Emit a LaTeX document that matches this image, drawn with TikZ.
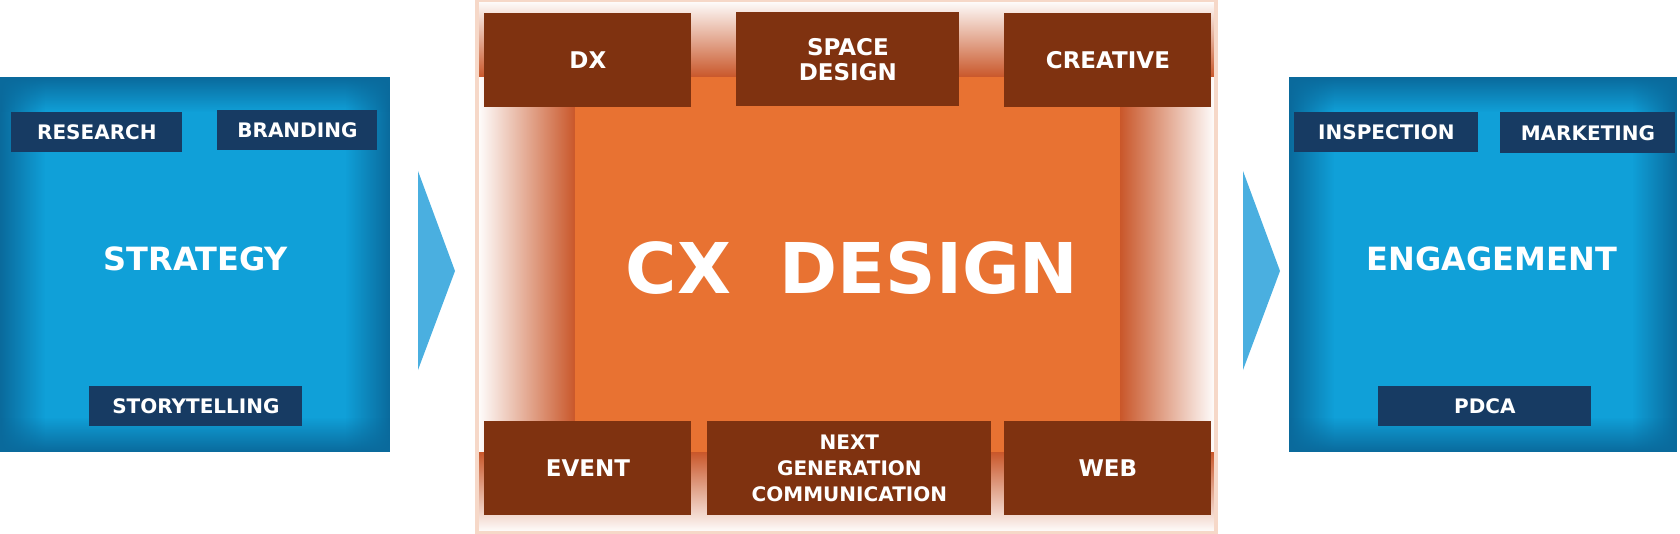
\documentclass[tikz,border=0pt]{standalone}
\usepackage{fontspec}
\setmainfont{DejaVu Sans}
\usetikzlibrary{fadings}
\definecolor{bluec}{HTML}{10A0D8}
\definecolor{blued}{HTML}{0A6A9C}
\definecolor{navy}{HTML}{173B63}
\definecolor{brown}{HTML}{7F3210}
\definecolor{orange}{HTML}{E87232}
\definecolor{oranged}{HTML}{C9572A}
\definecolor{peach}{HTML}{F6D8C8}
\definecolor{arrowc}{HTML}{4AAFE0}
\tikzset{
  tag/.style={fill=navy,text=white,font=\bfseries\fontsize{10}{12}\selectfont,inner sep=0pt,anchor=north west},
  brownbox/.style={fill=brown,text=white,font=\bfseries\fontsize{11.5}{12.5}\selectfont,inner sep=0pt,anchor=north west,align=center},
  title/.style={text=white,font=\bfseries\fontsize{16}{18}\selectfont},
}
\newcommand{\bluepanel}[4]{% x1 y1 x2 y2
  \fill[bluec] (#1,#2) rectangle (#3,#4);
  \fill[blued,path fading=east] (#1,#2) rectangle ({#1+45},#4);
  \fill[blued,path fading=west] ({#3-45},#2) rectangle (#3,#4);
  \fill[blued,path fading=south] (#1,#2) rectangle (#3,{#2+35});
  \fill[blued,path fading=north] (#1,{#4-35}) rectangle (#3,#4);
}
\begin{document}
\begin{tikzpicture}[x=0.5pt,y=-0.5pt]
\useasboundingbox (0,0) rectangle (1680,534);
% left panel
\bluepanel{0}{77}{390}{452}
\node[title] (strategy) at (196,259) {STRATEGY};
\node[tag,minimum width=85.5pt,minimum height=20pt] (research) at (11,112) {RESEARCH};
\node[tag,minimum width=80pt,minimum height=20pt] (branding) at (217,110) {BRANDING};
\node[tag,minimum width=106.5pt,minimum height=20pt] (story) at (89,386) {STORYTELLING};
% arrows
\fill[arrowc] (418,171) -- (455,271) -- (418,370) -- cycle;
\fill[arrowc] (1243,171) -- (1280,271) -- (1243,370) -- cycle;
% center
\fill[white] (477,0) rectangle (1216,533);
\fill[left color=white,right color=oranged] (477,77) rectangle (575,452);
\fill[right color=white,left color=oranged] (1120,77) rectangle (1216,452);
\fill[top color=white,bottom color=oranged] (477,0) rectangle (1216,77);
\fill[bottom color=white,top color=oranged] (477,452) rectangle (1216,533);
\draw[peach,line width=2] (477,0) rectangle (1216,533);
\fill[orange] (575,77) rectangle (1120,452);
\node[text=white,font=\bfseries\fontsize{35}{40}\selectfont] (cx) at (852,268) {CX\ \ DESIGN};
\node[brownbox,minimum width=103.5pt,minimum height=47pt] (dx) at (484,13) {DX};
\node[brownbox,minimum width=111.5pt,minimum height=47pt] (space) at (736,12) {SPACE\\DESIGN};
\node[brownbox,minimum width=103.5pt,minimum height=47pt] (creative) at (1004,13) {CREATIVE};
\node[brownbox,minimum width=103.5pt,minimum height=47pt] (event) at (484,421) {EVENT};
\node[brownbox,minimum width=142pt,minimum height=47pt,font=\bfseries\fontsize{10}{13}\selectfont] (next) at (707,421) {NEXT\\GENERATION\\COMMUNICATION};
\node[brownbox,minimum width=103.5pt,minimum height=47pt] (web) at (1004,421) {WEB};
% right panel
\bluepanel{1289}{77}{1677}{452}
\node[title] (engage) at (1492,259) {ENGAGEMENT};
\node[tag,minimum width=92pt,minimum height=20pt] (insp) at (1294,112) {INSPECTION};
\node[tag,minimum width=87.5pt,minimum height=20.5pt] (mark) at (1500,112) {MARKETING};
\node[tag,minimum width=106.5pt,minimum height=20pt] (pdca) at (1378,386) {PDCA};
\end{tikzpicture}
\end{document}
